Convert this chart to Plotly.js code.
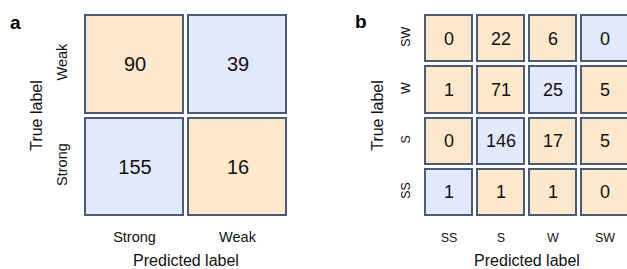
<!DOCTYPE html>
<html>
<head>
<meta charset="utf-8">
<script src="https://cdn.plot.ly/plotly-3.0.1.min.js"></script>
<style>
html,body{margin:0;padding:0;overflow:hidden;background:#fff;width:627px;height:269px;}
#chart{width:640px;height:269px;}
</style>
</head>
<body>
<div id="chart"></div>
<script>
// Panel a data
const aPred = ['Strong', 'Weak'];
const aTrue = ['Strong', 'Weak'];           // bottom to top
const aValues = [[155, 16], [90, 39]];      // rows follow aTrue
// Panel b data
const bPred = ['SS', 'S', 'W', 'SW'];
const bTrue = ['SS', 'S', 'W', 'SW'];       // bottom to top
const bValues = [
  [1, 1, 1, 0],
  [0, 146, 17, 5],
  [1, 71, 25, 5],
  [0, 22, 6, 0]
];

const ORANGE = '#FEE8CB';
const BLUE = '#E3E9FC';
const EDGE = '#4A5B7A';
const FONT = 'Liberation Sans, Arial, sans-serif';

function layers(pred, truth, vals, xa, ya, fs) {
  const diag = truth.map(t => pred.map(p => (p === t ? 1 : 0)));
  const zero = vals.map(r => r.map(() => 0));
  return [
    {type: 'heatmap', x: pred, y: truth, z: zero, xaxis: xa, yaxis: ya,
     colorscale: [[0, EDGE], [1, EDGE]], showscale: false, xgap: 3, ygap: 3,
     hoverinfo: 'skip'},
    {type: 'heatmap', x: pred, y: truth, z: diag, xaxis: xa, yaxis: ya,
     zmin: 0, zmax: 1, colorscale: [[0, ORANGE], [1, BLUE]], showscale: false,
     xgap: 7, ygap: 7, text: vals, texttemplate: '%{text}',
     textfont: {family: FONT, size: fs, color: '#111'}, hoverinfo: 'skip'}
  ];
}

const data = [].concat(
  layers(aPred, aTrue, aValues, 'x', 'y', 20),
  layers(bPred, bTrue, bValues, 'x2', 'y2', 18)
);

const W = 640, H = 269;
const axCommon = {showgrid: false, zeroline: false, showline: false, ticks: '',
  fixedrange: true, type: 'category'};

const layout = {
  width: W, height: H,
  margin: {l: 0, r: 0, t: 0, b: 0},
  paper_bgcolor: '#fff', plot_bgcolor: '#fff',
  font: {family: FONT, color: '#111'},
  showlegend: false,
  xaxis: Object.assign({}, axCommon, {domain: [83/W, 289/W], anchor: 'y',
    tickfont: {size: 14.5}, ticklabelstandoff: 8,
    title: {text: 'Predicted label', font: {size: 16}, standoff: 17}}),
  yaxis: Object.assign({}, axCommon, {domain: [(H-218)/H, (H-13)/H], anchor: 'x',
    tickfont: {size: 14.5}, tickangle: -90, ticklabelstandoff: 12,
    title: {text: 'True label', font: {size: 16}, standoff: 7}}),
  xaxis2: Object.assign({}, axCommon, {domain: [423/W, 631/W], anchor: 'y2',
    tickfont: {size: 12.5}, ticklabelstandoff: 10,
    title: {text: 'Predicted label', font: {size: 16}, standoff: 15}}),
  yaxis2: Object.assign({}, axCommon, {domain: [(H-218)/H, (H-13)/H], anchor: 'x2',
    tickfont: {size: 12.5}, tickangle: -90, ticklabelstandoff: 10,
    title: {text: 'True label', font: {size: 16}, standoff: 10}}),
  annotations: [
    {text: '<b>a</b>', x: 15/W, y: (H-22)/H, xref: 'paper', yref: 'paper',
     xanchor: 'center', yanchor: 'middle',
     showarrow: false, font: {size: 19, family: FONT, color: '#000'}},
    {text: '<b>b</b>', x: 361/W, y: (H-21)/H, xref: 'paper', yref: 'paper',
     xanchor: 'center', yanchor: 'middle',
     showarrow: false, font: {size: 19, family: FONT, color: '#000'}}
  ]
};

Plotly.newPlot('chart', data, layout, {staticPlot: true, displayModeBar: false});
</script>
</body>
</html>
